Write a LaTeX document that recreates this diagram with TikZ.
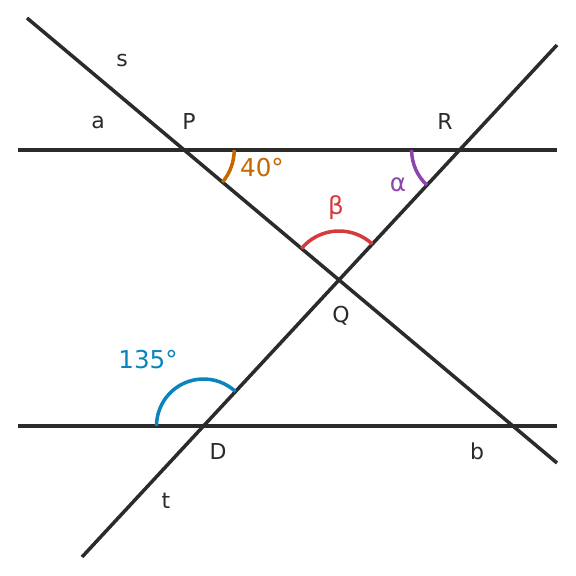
\documentclass[tikz,border=0pt]{standalone}
\usepackage{fontspec}
\setmainfont{DejaVu Sans}
\usetikzlibrary{angles}
\definecolor{linegray}{RGB}{43,43,43}
\definecolor{angorange}{RGB}{196,104,0}
\definecolor{angpurple}{RGB}{142,68,173}
\definecolor{angred}{RGB}{214,58,58}
\definecolor{angblue}{RGB}{10,132,187}

\begin{document}
\begin{tikzpicture}[x=0.02cm, y=0.02cm]
			\tikzstyle{ln} = [draw=linegray, line width=2pt]
			\tikzstyle{angarc} = [line width=2pt]
			\tikzstyle{lbl} = [text=linegray, inner sep=0pt, font=\fontsize{12.5}{14}\selectfont]
			\tikzstyle{anglbl} = [inner sep=0pt, font=\fontsize{14}{16}\selectfont]
			\useasboundingbox (0,0) rectangle (576,576);

			% end points of the four lines
			\coordinate (a1) at (18,426);
			\coordinate (a2) at (557,426);
			\coordinate (b1) at (18,150);
			\coordinate (b2) at (557,150);
			\coordinate (s1) at (27,558);
			\coordinate (s2) at (557,113);
			\coordinate (t1) at (82,19);
			\coordinate (t2) at (557,531);
			% crossings
			\coordinate (P) at (184.2,426);
			\coordinate (R) at (459.6,426);
			\coordinate (Q) at (339,296);
			\coordinate (D) at (203.5,150);

			\path
			(a1) edge[ln] (a2)
			(b1) edge[ln] (b2)
			(s1) edge[ln] (s2)
			(t1) edge[ln] (t2)
			;

			\pic[draw=angorange, angarc, angle radius=1cm] {angle = s2--P--a2};
			\pic[draw=angpurple, angarc, angle radius=0.96cm] {angle = a1--R--t1};
			\pic[draw=angred, angarc, angle radius=0.98cm] {angle = t2--Q--s1};
			\pic[draw=angblue, angarc, angle radius=0.94cm] {angle = t2--D--b1};

			\path
			node[lbl] (labs) at (122,515) {s}
			node[lbl] (laba) at (98,453) {a}
			node[lbl] (labP) at (189,455) {P}
			node[lbl] (labR) at (445,455) {R}
			node[lbl] (labQ) at (341,260) {Q}
			node[lbl] (labD) at (218,125) {D}
			node[lbl] (labb) at (477,125) {b}
			node[lbl] (labt) at (166,75) {t}
			node[anglbl, text=angorange] (ang40) at (262,408) {40°}
			node[anglbl, text=angpurple] (angalpha) at (398,391) {α}
			node[anglbl, text=angred] (angbeta) at (336,368) {β}
			node[anglbl, text=angblue] (ang135) at (148,216) {135°}
			;
\end{tikzpicture}
\end{document}
